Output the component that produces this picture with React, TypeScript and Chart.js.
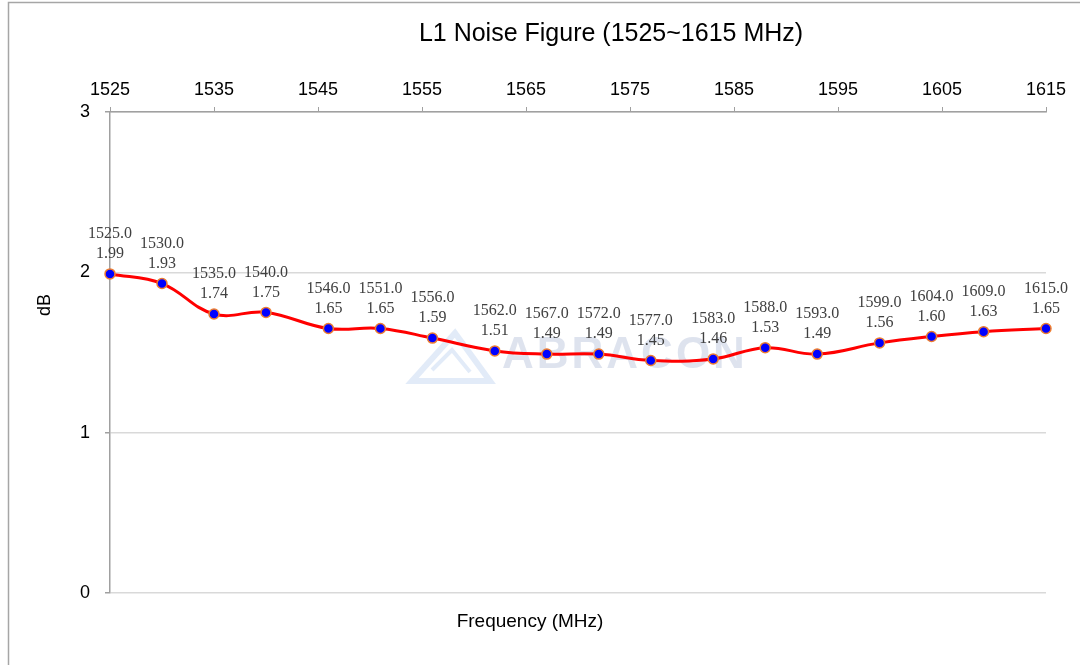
import React, { useEffect, useRef } from "react";
import { Chart, registerables } from "chart.js";

Chart.register(...registerables);

const frequencies = [1525, 1530, 1535, 1540, 1546, 1551, 1556, 1562, 1567, 1572, 1577, 1583, 1588, 1593, 1599, 1604, 1609, 1615];
const noiseFigure = [1.99, 1.93, 1.74, 1.75, 1.65, 1.65, 1.59, 1.51, 1.49, 1.49, 1.45, 1.46, 1.53, 1.49, 1.56, 1.6, 1.63, 1.65];
const xRange = [1525, 1615];
const yRange = [0, 3];
const titleText = "L1 Noise Figure (1525~1615 MHz)";
const xTitleText = "Frequency (MHz)";
const yTitleText = "dB";
const watermarkText = "ABRACON";

const SANS = '"Liberation Sans", Arial, sans-serif';
const SERIF = '"Liberation Serif", "Times New Roman", serif';

const overlay = {
  id: "overlay",
  beforeDraw(chart: any) {
    const ctx = chart.ctx;
    const area = chart.chartArea;
    ctx.save();
    ctx.fillStyle = "#ffffff";
    ctx.fillRect(0, 0, chart.width, chart.height);
    // frame
    ctx.strokeStyle = "#a6a6a6";
    ctx.lineWidth = 1.5;
    ctx.beginPath();
    ctx.moveTo(8.5, chart.height);
    ctx.lineTo(8.5, 2.5);
    ctx.lineTo(chart.width, 2.5);
    ctx.stroke();
    // title
    ctx.fillStyle = "#000000";
    ctx.textAlign = "center";
    ctx.textBaseline = "middle";
    ctx.font = `25px ${SANS}`;
    ctx.fillText(titleText, 611, 34);
    // x title
    ctx.font = `19px ${SANS}`;
    ctx.fillText(xTitleText, (area.left + area.right) / 2 - 48, 622);
    // y title
    ctx.translate(45, 305);
    ctx.rotate(-Math.PI / 2);
    ctx.font = `18px ${SANS}`;
    ctx.fillText(yTitleText, 0, 0);
    ctx.restore();
  },
  beforeDatasetsDraw(chart: any) {
    const ctx = chart.ctx;
    ctx.save();
    // logo
    ctx.strokeStyle = "rgba(190, 210, 240, 0.45)";
    ctx.lineWidth = 6;
    ctx.lineJoin = "miter";
    ctx.beginPath();
    ctx.moveTo(412, 381);
    ctx.lineTo(455, 333);
    ctx.lineTo(490, 381);
    ctx.closePath();
    ctx.stroke();
    ctx.lineWidth = 4;
    ctx.beginPath();
    ctx.moveTo(432, 370);
    ctx.lineTo(452, 350);
    ctx.lineTo(470, 372);
    ctx.stroke();
    // text
    ctx.fillStyle = "rgba(200, 208, 226, 0.6)";
    ctx.font = `bold 44px ${SANS}`;
    (ctx as any).letterSpacing = "3px";
    ctx.textAlign = "left";
    ctx.textBaseline = "alphabetic";
    ctx.fillText(watermarkText, 502, 368);
    ctx.restore();
  },
  afterDatasetsDraw(chart: any) {
    const ctx = chart.ctx;
    const meta = chart.getDatasetMeta(0);
    ctx.save();
    ctx.fillStyle = "#404040";
    ctx.font = `16px ${SERIF}`;
    ctx.textAlign = "center";
    ctx.textBaseline = "middle";
    meta.data.forEach((pt: any, i: number) => {
      ctx.fillText(frequencies[i].toFixed(1), pt.x, pt.y - 40);
      ctx.fillText(noiseFigure[i].toFixed(2), pt.x, pt.y - 20);
    });
    ctx.restore();
  },
};

export default function App() {
  const ref = useRef<HTMLCanvasElement | null>(null);
  useEffect(() => {
    if (!ref.current) return;
    const chart = new Chart(ref.current, {
      type: "line",
      data: {
        datasets: [
          {
            data: frequencies.map((f, i) => ({ x: f, y: noiseFigure[i] })),
            borderColor: "#ff0000",
            borderWidth: 3,
            tension: 0.4,
            pointRadius: 5,
            pointBackgroundColor: "#0000ff",
            pointBorderColor: "#ed7d31",
            pointBorderWidth: 1.5,
            clip: false,
          },
        ],
      },
      options: {
        responsive: false,
        animation: false,
        devicePixelRatio: 1,
        layout: { padding: { left: 0, top: 0, right: 34, bottom: 72 } },
        plugins: {
          legend: { display: false },
          tooltip: { enabled: false },
          title: { display: false },
        },
        scales: {
          x: {
            type: "linear",
            position: "top",
            min: xRange[0],
            max: xRange[1],
            ticks: {
              stepSize: 10,
              color: "#000000",
              padding: 6,
              font: { family: SANS, size: 18 },
              maxRotation: 0,
              autoSkip: false,
              callback: (v: any) => String(v),
            },
            grid: {
              drawOnChartArea: false,
              drawTicks: true,
              tickLength: 5,
              tickColor: "#a0a0a0",
            },
            border: { display: true, color: "#a0a0a0", width: 1.5 },
            afterFit(scale: any) {
              scale.height = 112;
              scale.paddingLeft = 0;
              scale.paddingRight = 0;
            },
          },
          y: {
            type: "linear",
            position: "left",
            min: yRange[0],
            max: yRange[1],
            ticks: {
              stepSize: 1,
              color: "#000000",
              padding: 15,
              font: { family: SANS, size: 18 },
              callback: (v: any) => String(v),
            },
            grid: {
              color: "#d9d9d9",
              lineWidth: 1.5,
              drawTicks: true,
              tickLength: 5,
              tickColor: "#a0a0a0",
            },
            border: { display: true, color: "#a0a0a0", width: 1.5 },
            afterFit(scale: any) {
              scale.width = 110;
              scale.paddingTop = 0;
              scale.paddingBottom = 0;
            },
          },
        },
      },
      plugins: [overlay],
    });
    return () => chart.destroy();
  }, []);
  return (
    <div style={{ position: "fixed", left: 0, top: 0, width: 1080, height: 665 }}>
      <canvas ref={ref} width={1080} height={665} />
    </div>
  );
}
